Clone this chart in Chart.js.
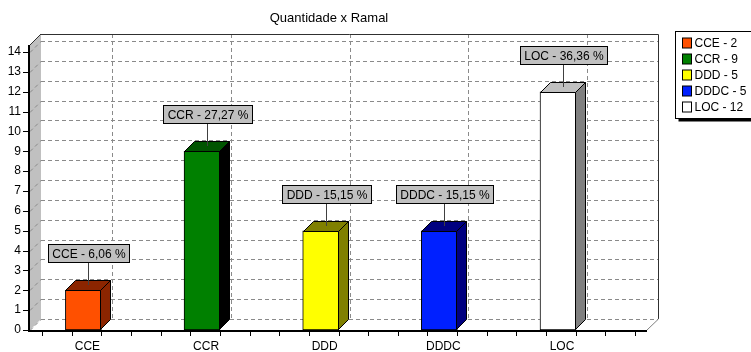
<!DOCTYPE html>
<html>
<head>
<meta charset="utf-8">
<title>Quantidade x Ramal</title>
<script src="https://cdn.jsdelivr.net/npm/chart.js"></script>
<style>
  html, body { margin: 0; padding: 0; background: #fff; }
  canvas { display: block; }
</style>
</head>
<body>
<canvas id="chart1" width="751" height="352"></canvas>
<script>
"use strict";

// dados
var ramais = ['CCE', 'CCR', 'DDD', 'DDDC', 'LOC'];
var quantidades = [2, 9, 5, 5, 12];
var ticksY = [0, 1, 2, 3, 4, 5, 6, 7, 8, 9, 10, 11, 12, 13, 14];

// cores: frente, topo e lateral de cada barra
var corFrente = ['#ff5000', '#008000', '#ffff00', '#0020ff', '#ffffff'];
var corTopo = ['#8b2500', '#005400', '#808000', '#000080', '#c0c0c0'];
var corLado = ['#8b2500', '#000000', '#808000', '#000080', '#808080'];

var total = quantidades.reduce(function(s, v) { return s + v; }, 0);
var prof = 11;       // profundidade das paredes
var profBarra = 10;  // profundidade das barras
var fonte = '12px Arial, "Liberation Sans", sans-serif';

function pct(v) {
  return (v / total * 100).toFixed(2).replace('.', ',');
}

function linha(ctx, x1, y1, x2, y2) {
  ctx.beginPath();
  ctx.moveTo(x1, y1);
  ctx.lineTo(x2, y2);
  ctx.stroke();
}

// paredes, piso e grade em 3D
var fundo3d = {
  id: 'fundo3d',
  beforeDraw: function(chart) {
    var ctx = chart.ctx, a = chart.chartArea;
    var sx = chart.scales.x, sy = chart.scales.y;
    var esq = a.left, dir = a.right;
    var base = Math.round(sy.getPixelForValue(0));
    var topo = a.top - 7;

    ctx.save();
    ctx.fillStyle = '#fff';
    ctx.fillRect(0, 0, chart.width, chart.height);

    // parede esquerda
    ctx.fillStyle = '#c0c0c0';
    ctx.beginPath();
    ctx.moveTo(esq, topo);
    ctx.lineTo(esq + prof, topo - prof);
    ctx.lineTo(esq + prof, base - prof);
    ctx.lineTo(esq, base);
    ctx.closePath();
    ctx.fill();

    // grade horizontal
    ctx.strokeStyle = '#8a8a8a';
    ctx.lineWidth = 1;
    ctx.setLineDash([4, 3]);
    ticksY.forEach(function(v) {
      var yy = Math.round(sy.getPixelForValue(v)) + 0.5;
      linha(ctx, esq, yy, esq + prof, yy - prof);
      linha(ctx, esq + prof, yy - prof, dir + prof, yy - prof);
    });

    // grade vertical
    ramais.forEach(function(r, i) {
      var xx = Math.round(sx.getPixelForValue(i + 0.15)) + prof + 0.5;
      linha(ctx, xx, topo - prof, xx, base - prof);
    });
    ctx.setLineDash([]);

    // bordas da parede do fundo
    ctx.strokeStyle = '#303030';
    ctx.beginPath();
    ctx.moveTo(esq + prof, topo - prof + 0.5);
    ctx.lineTo(dir + prof + 0.5, topo - prof + 0.5);
    ctx.lineTo(dir + prof + 0.5, base - prof);
    ctx.stroke();
    linha(ctx, esq, topo, esq + prof, topo - prof);

    // piso
    ctx.strokeStyle = '#808080';
    linha(ctx, dir, base, dir + prof + 0.5, base - prof);
    ctx.strokeStyle = '#000';
    ctx.lineWidth = 2;
    linha(ctx, esq - 2, base + 1, dir, base + 1);
    linha(ctx, esq - 1, topo, esq - 1, base + 2);

    // marcas dos eixos
    ctx.lineWidth = 1;
    ticksY.forEach(function(v) {
      var yy = Math.round(sy.getPixelForValue(v)) + 0.5;
      linha(ctx, esq - 7, yy, esq - 1, yy);
    });
    for (var k = -2; k < ramais.length * 4 + 2; k++) {
      var val = 0.15 + k * 0.25;
      if (val < sx.min || val > sx.max) continue;
      var xx = Math.round(sx.getPixelForValue(val)) + 0.5;
      linha(ctx, xx, base + 2, xx, base + 6);
    }

    // titulo
    ctx.fillStyle = '#000';
    ctx.font = '13px Arial, "Liberation Sans", sans-serif';
    ctx.textAlign = 'center';
    ctx.textBaseline = 'middle';
    ctx.fillText('Quantidade x Ramal', 329, 18);
    ctx.restore();
  }
};

// topo e lateral das barras + rotulos com percentual
var barras3d = {
  id: 'barras3d',
  afterDatasetsDraw: function(chart) {
    var ctx = chart.ctx, d = profBarra;
    var meta = chart.getDatasetMeta(0);
    ctx.save();
    meta.data.forEach(function(bar, i) {
      var p = bar.getProps(['x', 'y', 'base', 'width'], true);
      var l = Math.round(p.x - p.width / 2), r = Math.round(p.x + p.width / 2);
      var t = Math.round(p.y), b = Math.round(p.base);

      ctx.strokeStyle = '#000';
      ctx.lineWidth = 1;

      ctx.fillStyle = corTopo[i];
      ctx.beginPath();
      ctx.moveTo(l + 0.5, t + 0.5);
      ctx.lineTo(l + d + 0.5, t - d + 0.5);
      ctx.lineTo(r + d - 0.5, t - d + 0.5);
      ctx.lineTo(r - 0.5, t + 0.5);
      ctx.closePath();
      ctx.fill();
      ctx.stroke();

      ctx.fillStyle = corLado[i];
      ctx.beginPath();
      ctx.moveTo(r - 0.5, t + 0.5);
      ctx.lineTo(r + d - 0.5, t - d + 0.5);
      ctx.lineTo(r + d - 0.5, b - d - 0.5);
      ctx.lineTo(r - 0.5, b - 0.5);
      ctx.closePath();
      ctx.fill();
      ctx.stroke();

      // rotulo
      var texto = ramais[i] + ' - ' + pct(quantidades[i]) + ' %';
      ctx.font = fonte;
      var w = Math.round(ctx.measureText(texto).width) + 8, h = 18;
      var cx = Math.round((l + r + d) / 2) + 0.5, cy = t - d / 2;
      var bx = Math.round(cx - w / 2) + 0.5, by = Math.round(cy - 23 - h) + 0.5;

      ctx.strokeStyle = '#404040';
      linha(ctx, cx, cy, cx, by + h);
      ctx.fillStyle = '#c0c0c0';
      ctx.fillRect(bx, by, w, h);
      ctx.strokeStyle = '#000';
      ctx.strokeRect(bx, by, w, h);
      ctx.fillStyle = '#000';
      ctx.textAlign = 'center';
      ctx.textBaseline = 'middle';
      ctx.fillText(texto, bx + w / 2, by + h / 2 + 1);
    });
    ctx.restore();
  }
};

// legenda com sombra
var legenda = {
  id: 'legenda',
  afterDraw: function(chart) {
    var ctx = chart.ctx;
    var lx = chart.chartArea.right + 28 + 0.5, ly = 31.5, lw = 82, lh = 87;
    ctx.save();
    ctx.fillStyle = '#000';
    ctx.fillRect(lx + 3, ly + 3, lw, lh);
    ctx.fillStyle = '#fff';
    ctx.fillRect(lx, ly, lw, lh);
    ctx.strokeStyle = '#000';
    ctx.lineWidth = 1;
    ctx.strokeRect(lx, ly, lw, lh);

    ctx.font = fonte;
    ctx.textAlign = 'left';
    ctx.textBaseline = 'middle';
    ramais.forEach(function(r, i) {
      var sy = Math.round(ly + 11 + i * 16);
      ctx.fillStyle = corFrente[i];
      ctx.fillRect(lx + 7, sy - 5, 9, 10);
      ctx.strokeRect(lx + 7, sy - 5, 9, 10);
      ctx.fillStyle = '#000';
      ctx.fillText(r + ' - ' + quantidades[i], lx + 19, sy + 1);
    });
    ctx.restore();
  }
};

var ctx = document.getElementById('chart1').getContext('2d');

var myChart = new Chart(ctx, {
  type: 'bar',
  data: {
    datasets: [{
      label: 'Quantidade',
      data: ramais.map(function(r, i) { return { x: i, y: quantidades[i] }; }),
      backgroundColor: corFrente,
      borderColor: '#000',
      borderWidth: 1,
      borderSkipped: false,
      barThickness: 36
    }]
  },
  options: {
    responsive: false,
    animation: false,
    events: [],
    layout: {
      padding: { top: 52, right: 104, left: 0, bottom: 0 }
    },
    plugins: {
      legend: { display: false },
      title: { display: false },
      tooltip: { enabled: false }
    },
    scales: {
      x: {
        type: 'linear',
        offset: false,
        min: -0.45,
        max: 4.75,
        grid: { display: false, drawTicks: false },
        border: { display: false },
        afterBuildTicks: function(scale) {
          scale.ticks = ramais.map(function(r, i) { return { value: i }; });
        },
        afterFit: function(scale) { scale.height = 22; },
        ticks: {
          padding: 9,
          labelOffset: 4,
          color: '#000',
          font: { family: 'Arial, "Liberation Sans", sans-serif', size: 12 },
          callback: function(v) { return ramais[v]; }
        }
      },
      y: {
        min: 0,
        max: 14,
        grid: { display: false, drawTicks: false },
        border: { display: false },
        afterBuildTicks: function(scale) {
          scale.ticks = ticksY.map(function(v) { return { value: v }; });
        },
        afterFit: function(scale) { scale.width = 30; },
        ticks: {
          padding: 9,
          color: '#000',
          font: { family: 'Arial, "Liberation Sans", sans-serif', size: 12 }
        }
      }
    }
  },
  plugins: [fundo3d, barras3d, legenda]
});
</script>
</body>
</html>
